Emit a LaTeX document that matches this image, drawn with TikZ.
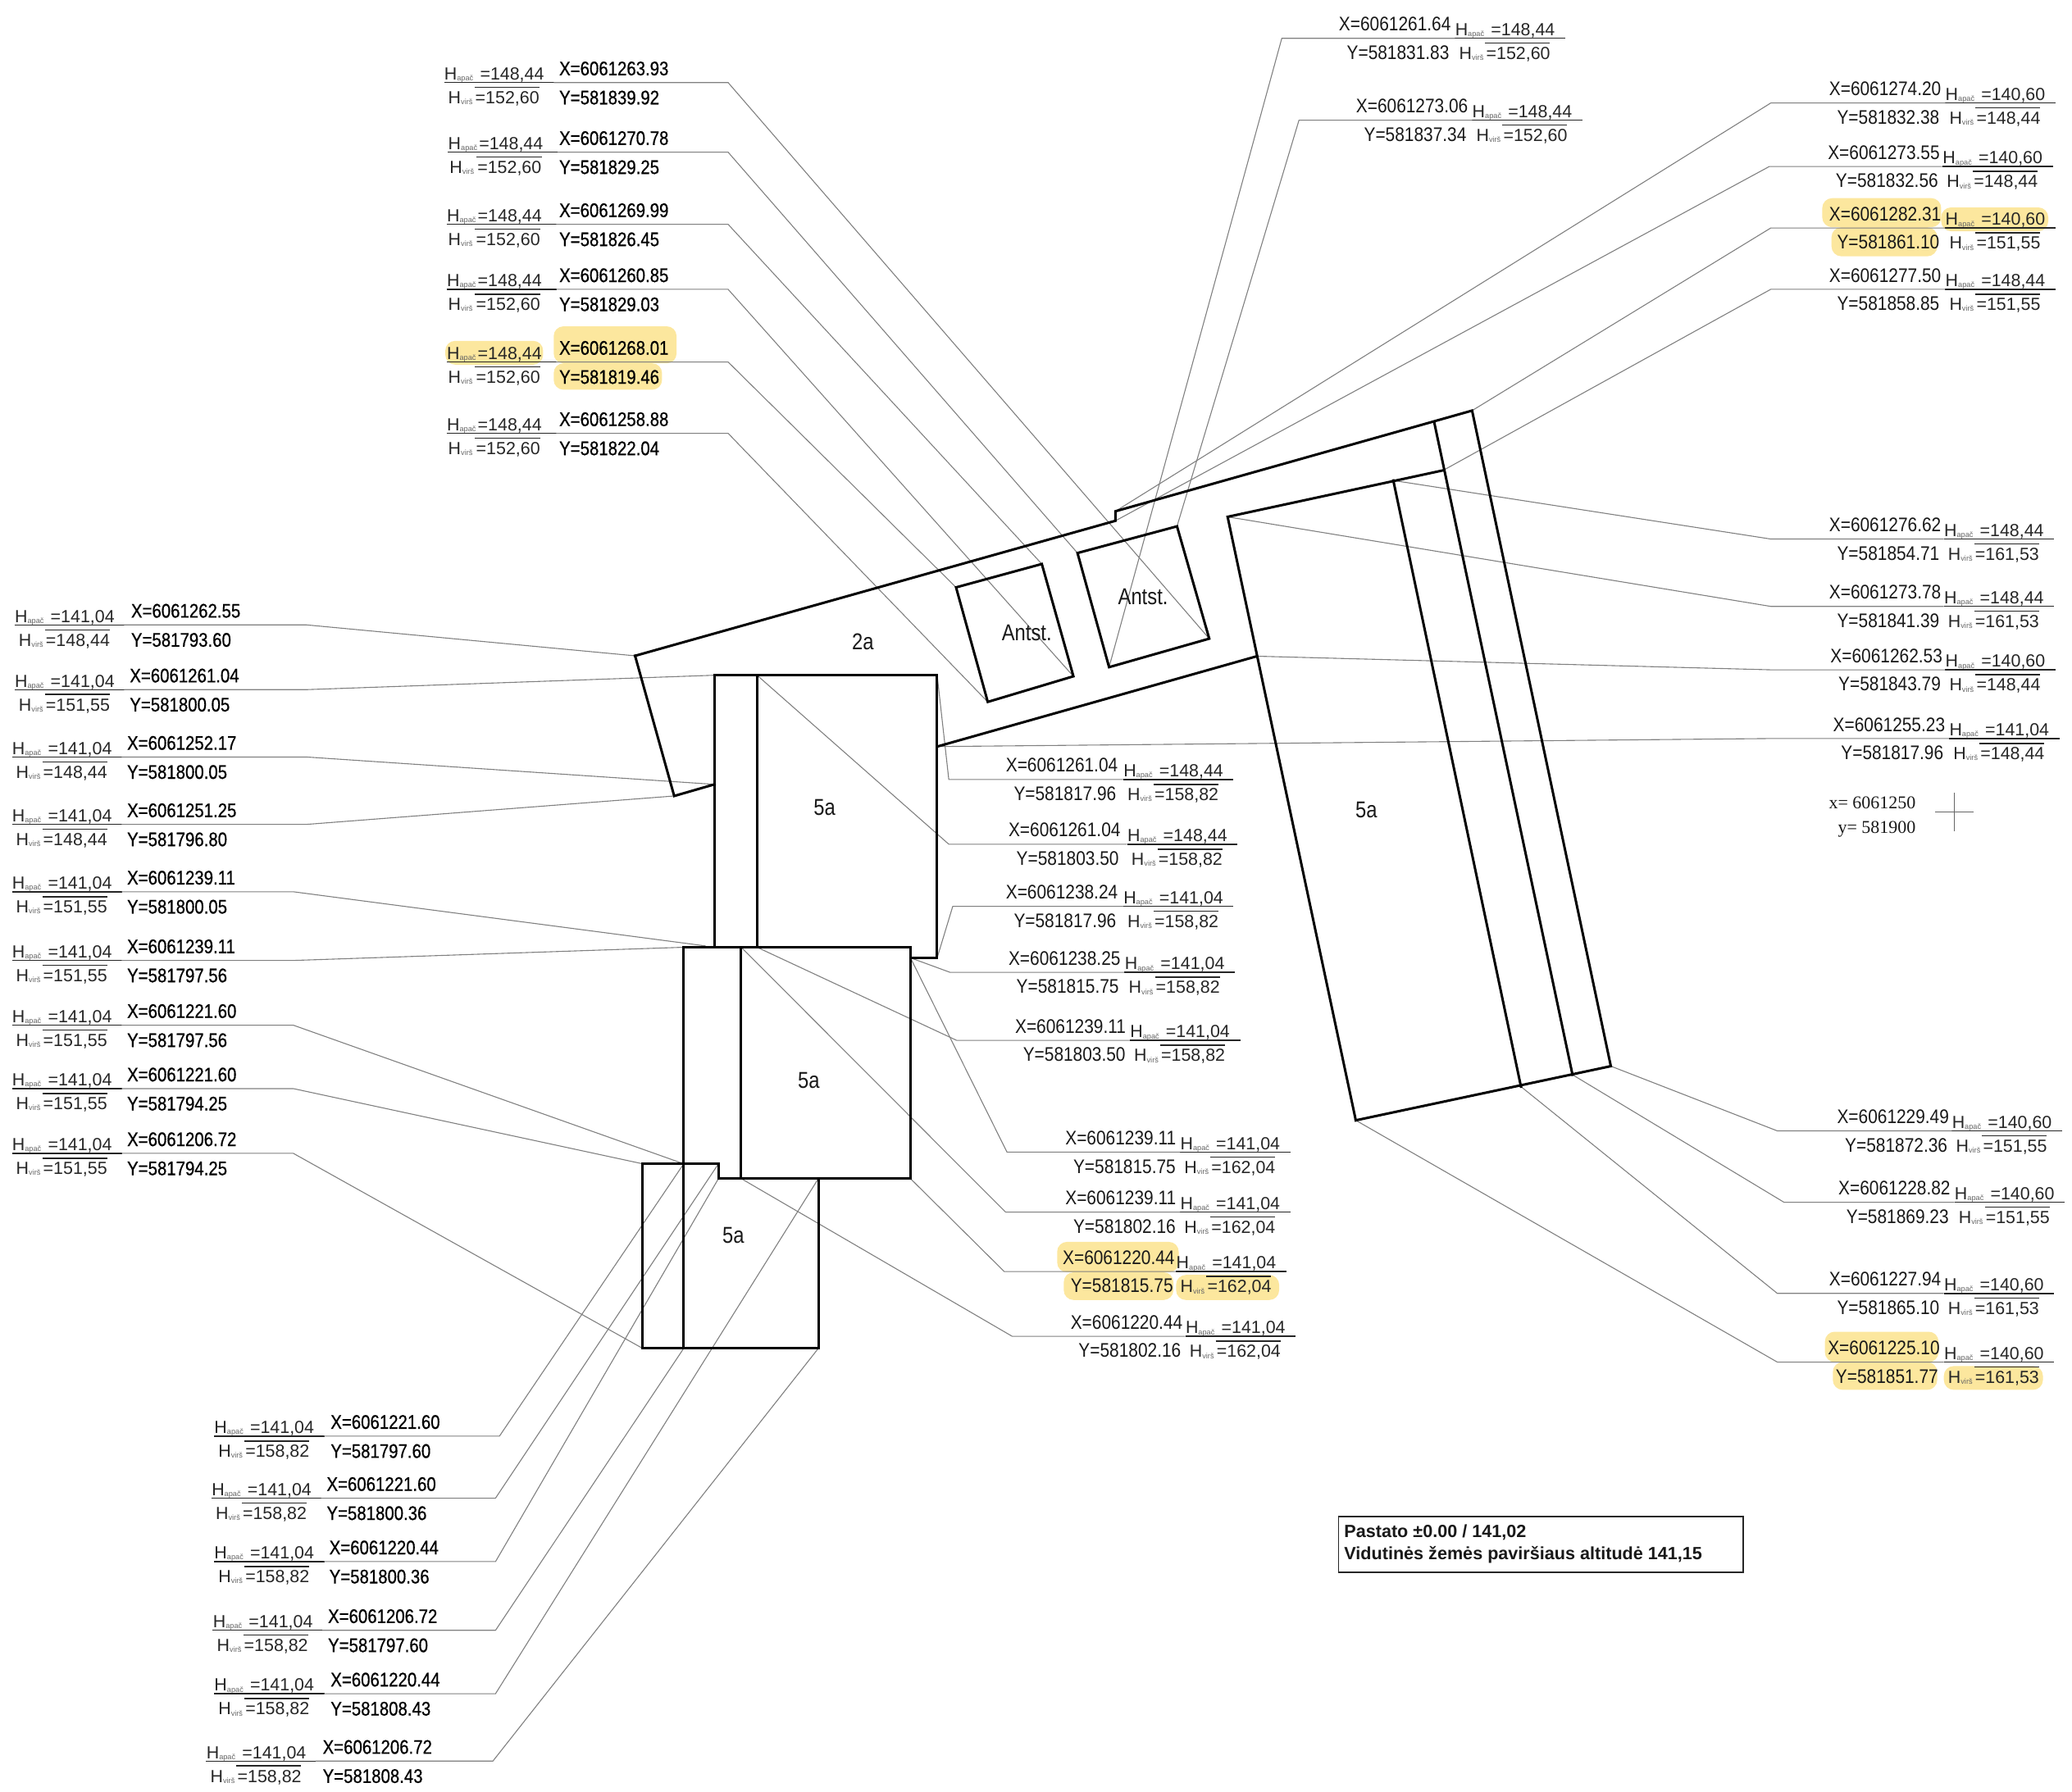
\documentclass[tikz,border=0pt]{standalone}
\usepackage{fontspec}
\setmainfont{Liberation Sans}
\newfontfamily\xyfont[FakeStretch=0.87]{Liberation Sans}
\newfontfamily\xyfontb[FakeStretch=0.85,FakeBold=0.6]{Liberation Sans}
\newfontfamily\lblfont[FakeStretch=0.85]{Liberation Sans}
\newfontfamily\serfont{Liberation Serif}
\definecolor{hl}{HTML}{FCE79E}
\definecolor{subg}{HTML}{666666}
\newcount\grpn
\tikzset{
  x=0.8058pt,y=-0.8058pt,
  wall/.style={draw=black,line width=1.5pt,line join=miter,line cap=rect},
  lead/.style={draw=black!50,line width=0.55pt},
  uline/.style={draw=black!85,line width=0.75pt},
  oline/.style={draw=black!85,line width=0.75pt},
  hlab/.style={anchor=base west,inner sep=0pt,font=\fontsize{10.7}{12}\selectfont,text=black!85},
  xylab/.style={anchor=base west,inner sep=0pt,font=\fontsize{12}{14}\xyfont,text=black!90},
  xybold/.style={anchor=base west,inner sep=0pt,font=\fontsize{12}{14}\xyfontb,text=black},
  zone/.style={inner sep=0pt,font=\fontsize{14}{16}\lblfont,text=black!90},
  hbox/.style={fill=hl,rounded corners=6pt,draw=none},
}
\newcommand{\hsb}[2]{\makebox[#1][l]{H\raisebox{-0.6pt}{\textcolor{subg}{\fontsize{4.6}{5}\selectfont #2}}}}
% spacing of the H block: wide by default, tight for part of the top-left column
\newcommand{\hwide}{\def\aW{21.8pt}\def\vW{16.5pt}\def\vO{3}\def\oS{23}\def\oE{72}}
\newcommand{\htight}{\def\aW{18.8pt}\def\vW{17pt}\def\vO{1}\def\oS{21.5}\def\oE{71}}
\hwide
% H block: prefix, xh, y, apac, virs
\newcommand{\hblock}[5]{%
  \node[hlab] (#1a) at (#2,{#3-2}) {\hsb{\aW}{apač}=#4};
  \node[hlab] (#1v) at ({#2+\vO},{#3+16}) {\hsb{\vW}{virš}=#5};
  \coordinate (#1us) at (#2,#3);
  \coordinate (#1ue) at ({#2+83.5},#3);
  \coordinate (#1os) at ({#2+\oS},{#3+3.7});
  \coordinate (#1oe) at ({#2+\oE},{#3+3.7});
  \draw[uline] (#1us) -- (#1ue);
  \draw[oline] (#1os) -- (#1oe);
}
% left type: xh xt y X Y Ha Hv elbowx target
\newcommand{\gL}[9]{%
  \global\advance\grpn by 1
  \edef\gn{g\the\grpn}
  \hblock{\gn}{#1}{#3}{#6}{#7}
  \node[xybold] (\gn x) at (#2,{#3-5.5}) {X=#4};
  \node[xybold] (\gn y) at (#2,{#3+16.5}) {Y=#5};
  \coordinate (\gn s) at ({#1+83},#3);
  \coordinate (\gn e) at (#8,#3);
  \draw[lead] (\gn s) -- (\gn e) -- (#9);
}
% right type: xt xh y X Y Ha Hv elbowx target
\newcommand{\gR}[9]{%
  \global\advance\grpn by 1
  \edef\gn{g\the\grpn}
  \hblock{\gn}{#2}{#3}{#6}{#7}
  \node[xylab] (\gn x) at (#1,{#3-5.5}) {X=#4};
  \node[xylab] (\gn y) at ({#1+6},{#3+16}) {Y=#5};
  \coordinate (\gn s) at (#2,#3);
  \coordinate (\gn e) at (#8,#3);
  \draw[lead] (\gn s) -- (\gn e) -- (#9);
}
\begin{document}
\begin{tikzpicture}
\useasboundingbox (0,0) rectangle (1568,1356);
% highlights
\fill[hbox] (337,258) rectangle (411,276);
\fill[hbox] (419,247) rectangle (512,275);
\fill[hbox] (419,275) rectangle (501,295);
\fill[hbox] (1379,150) rectangle (1469,172);
\fill[hbox] (1386,172) rectangle (1466,194);
\fill[hbox] (1469,157) rectangle (1550,175);
\fill[hbox] (800,940) rectangle (892,963);
\fill[hbox] (805,963) rectangle (888,984);
\fill[hbox] (890,965) rectangle (968,984);
\fill[hbox] (1381,1008) rectangle (1467,1031);
\fill[hbox] (1387,1031) rectangle (1466,1052);
\fill[hbox] (1471,1034) rectangle (1546,1052);
% corners
\coordinate (A) at (480.6,496.4);
\coordinate (B) at (844.1,394.2);
\coordinate (C) at (844.1,387);
\coordinate (D) at (1114,310.8);
\coordinate (D1) at (1085.3,319.4);
\coordinate (E) at (1219,807);
\coordinate (F) at (1026,848);
\coordinate (G) at (929,391.2);
\coordinate (H) at (1092.2,356);
\coordinate (H1) at (1054.4,363.7);
\coordinate (J1) at (1151,822.5);
\coordinate (J2) at (1190,813.5);
\coordinate (K) at (709.2,565.1);
\coordinate (L) at (951.2,496.7);
\coordinate (M) at (510.2,602.5);
\coordinate (N) at (540.7,593.7);
\coordinate (P1) at (540.7,511.1);
\coordinate (P2) at (709.2,511.1);
\coordinate (P3) at (709.2,725);
\coordinate (P4) at (689,725);
\coordinate (P5) at (572.9,511.1);
\coordinate (P6) at (572.9,717);
\coordinate (P7) at (540.7,717);
\coordinate (Q1) at (517.4,717);
\coordinate (Q2) at (689,717);
\coordinate (Q3) at (689,892.1);
\coordinate (Q4) at (543.7,892.1);
\coordinate (Q5) at (543.7,880.9);
\coordinate (Q6) at (486.3,880.9);
\coordinate (Q7) at (486.3,1020.6);
\coordinate (Q8) at (619.3,1020.6);
\coordinate (Q9) at (619.3,892.1);
\coordinate (R1) at (560.9,717);
\coordinate (R2) at (560.9,892.1);
\coordinate (S1) at (517.4,880.9);
\coordinate (S2) at (517.4,1020.6);
\coordinate (T1) at (723.5,444.6);
\coordinate (T2) at (788.4,426.9);
\coordinate (T3) at (812.3,511.9);
\coordinate (T4) at (747.5,531.3);
\coordinate (U1) at (815.4,418.6);
\coordinate (U2) at (890.7,398.4);
\coordinate (U3) at (915.1,483.4);
\coordinate (U4) at (839.3,505);
\coordinate (P8) at (534,716);
% label groups (leaders beneath the walls)
\gL{336}{423}{62.5}{6061263.93}{581839.92}{148,44}{152,60}{551}{U3}
\htight
\gL{339}{423}{115.2}{6061270.78}{581829.25}{148,44}{152,60}{551}{U1}
\gL{338}{423}{169.8}{6061269.99}{581826.45}{148,44}{152,60}{551}{T2}
\gL{338}{423}{219}{6061260.85}{581829.03}{148,44}{152,60}{551}{T3}
\gL{338}{423}{274}{6061268.01}{581819.46}{148,44}{152,60}{551}{T1}
\gL{338}{423}{328}{6061258.88}{581822.04}{148,44}{152,60}{551}{T4}
\hwide
\gL{11}{99}{473}{6061262.55}{581793.60}{141,04}{148,44}{232}{A}
\gL{11}{98}{522}{6061261.04}{581800.05}{141,04}{151,55}{232}{P1}
\gL{9}{96}{573}{6061252.17}{581800.05}{141,04}{148,44}{232}{N}
\gL{9}{96}{624}{6061251.25}{581796.80}{141,04}{148,44}{232}{M}
\gL{9}{96}{675}{6061239.11}{581800.05}{141,04}{151,55}{222}{P8}
\gL{9}{96}{727}{6061239.11}{581797.56}{141,04}{151,55}{222}{Q1}
\gL{9}{96}{776}{6061221.60}{581797.56}{141,04}{151,55}{222}{S1}
\gL{9}{96}{824}{6061221.60}{581794.25}{141,04}{151,55}{222}{Q6}
\gL{9}{96}{873}{6061206.72}{581794.25}{141,04}{151,55}{222}{Q7}
\gL{162}{250}{1087}{6061221.60}{581797.60}{141,04}{158,82}{378}{S1}
\gL{160}{247}{1134}{6061221.60}{581800.36}{141,04}{158,82}{375}{Q5}
\gL{162}{249}{1182}{6061220.44}{581800.36}{141,04}{158,82}{375}{Q4}
\gL{161}{248}{1234}{6061206.72}{581797.60}{141,04}{158,82}{375}{S2}
\gL{162}{250}{1282}{6061220.44}{581808.43}{141,04}{158,82}{375}{Q9}
\gL{156}{244}{1333}{6061206.72}{581808.43}{141,04}{158,82}{373}{Q8}
\gR{1013}{1101}{29}{6061261.64}{581831.83}{148,44}{152,60}{970}{U4}
\gR{1026}{1114}{91}{6061273.06}{581837.34}{148,44}{152,60}{983}{U2}
\gR{1384}{1472}{78}{6061274.20}{581832.38}{140,60}{148,44}{1340}{C}
\gR{1383}{1470}{126}{6061273.55}{581832.56}{140,60}{148,44}{1339}{B}
\gR{1384}{1472}{172.6}{6061282.31}{581861.10}{140,60}{151,55}{1340}{D}
\gR{1384}{1472}{219}{6061277.50}{581858.85}{148,44}{151,55}{1340}{H}
\gR{1384}{1471}{408}{6061276.62}{581854.71}{148,44}{161,53}{1340}{H1}
\gR{1384}{1471}{459}{6061273.78}{581841.39}{148,44}{161,53}{1340}{G}
\gR{1385}{1472}{507}{6061262.53}{581843.79}{140,60}{148,44}{1340}{L}
\gR{1387}{1475}{559}{6061255.23}{581817.96}{141,04}{148,44}{1340}{K}
\gR{1390}{1477}{856}{6061229.49}{581872.36}{140,60}{151,55}{1345}{E}
\gR{1391}{1479}{910}{6061228.82}{581869.23}{140,60}{151,55}{1350}{J2}
\gR{1384}{1471}{979}{6061227.94}{581865.10}{140,60}{161,53}{1345}{J1}
\gR{1383}{1471}{1031}{6061225.10}{581851.77}{140,60}{161,53}{1345}{F}
\gR{761}{850}{590}{6061261.04}{581817.96}{148,44}{158,82}{718}{P2}
\gR{763}{853}{639}{6061261.04}{581803.50}{148,44}{158,82}{718}{P5}
\gR{761}{850}{686}{6061238.24}{581817.96}{141,04}{158,82}{721}{P3}
\gR{763}{851}{736}{6061238.25}{581815.75}{141,04}{158,82}{719}{P4}
\gR{768}{855}{787.5}{6061239.11}{581803.50}{141,04}{158,82}{724}{P6}
\gR{806}{893}{872}{6061239.11}{581815.75}{141,04}{162,04}{762}{P4}
\gR{806}{893}{917.5}{6061239.11}{581802.16}{141,04}{162,04}{761}{R1}
\gR{804}{890}{962.5}{6061220.44}{581815.75}{141,04}{162,04}{760}{Q3}
\gR{810}{897}{1011.5}{6061220.44}{581802.16}{141,04}{162,04}{766}{R2}
% walls
\draw[wall] (F) -- (G) -- (H);
\draw[wall] (A) -- (B) -- (C) -- (D) -- (E) -- (F);
\draw[wall] (A) -- (M) -- (N);
\draw[wall] (K) -- (L);
\draw[wall] (H1) -- (J1);
\draw[wall] (D1) -- (J2);
\draw[wall] (P7) -- (P1) -- (P2) -- (P3) -- (P4);
\draw[wall] (P5) -- (P6);
\draw[wall] (Q5) -- (Q4) -- (Q3) -- (Q2) -- (Q1) -- (S1);
\draw[wall] (R1) -- (R2);
\draw[wall] (Q9) -- (Q8) -- (Q7) -- (Q6) -- (Q5);
\draw[wall] (S1) -- (S2);
\draw[wall] (T1) -- (T2) -- (T3) -- (T4) -- cycle;
\draw[wall] (U1) -- (U2) -- (U3) -- (U4) -- cycle;
% zone labels
\node[zone] (z1) at (653,486) {2a};
\node[zone] (z2) at (777,479) {Antst.};
\node[zone] (z3) at (865,452) {Antst.};
\node[zone] (z4) at (624,611) {5a};
\node[zone] (z5) at (612,818) {5a};
\node[zone] (z6) at (555,935) {5a};
\node[zone] (z7) at (1034,613) {5a};
% grid cross
\node[anchor=base east,inner sep=0pt,font=\fontsize{11}{13}\serfont,text=black!90] (cx) at (1450,612) {x= 6061250};
\node[anchor=base east,inner sep=0pt,font=\fontsize{11}{13}\serfont,text=black!90] (cy) at (1450,631) {y= 581900};
\coordinate (c1) at (1464.3,614.3);
\coordinate (c2) at (1493.3,614.3);
\coordinate (c3) at (1478.8,600);
\coordinate (c4) at (1478.8,629);
\draw[black!60,line width=0.5pt] (c1) -- (c2);
\draw[black!60,line width=0.5pt] (c3) -- (c4);
% legend
\node[draw=black!85,line width=0.8pt,minimum width=246.6pt,minimum height=33.8pt,inner sep=0pt] (legend) at (1166,1169) {};
\node[anchor=north west,inner sep=0pt,align=left,font=\fontsize{10.8}{13.3}\selectfont\bfseries,text=black!90] (legendt) at (1017,1154) {Pastato ±0.00 / 141,02\\Vidutinės žemės paviršiaus altitudė 141,15};
\end{tikzpicture}
\end{document}
